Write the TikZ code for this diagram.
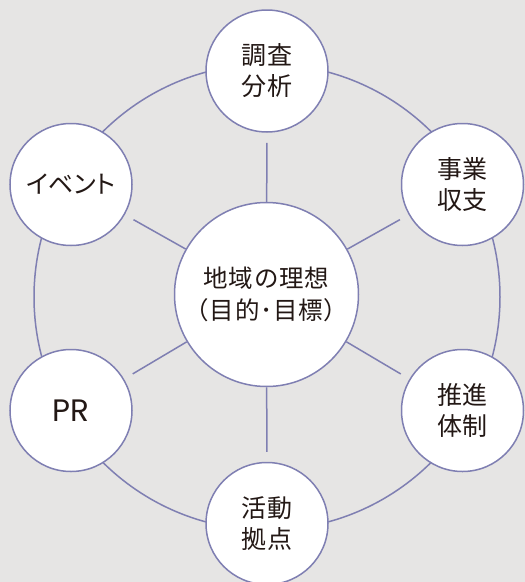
\documentclass[tikz,border=0pt]{standalone}
\usepackage{fontspec}
\newfontfamily\cjk[LetterSpace=3]{Noto Sans CJK JP}
\newfontfamily\cjkp[RawFeature=+palt]{Noto Sans CJK JP}
\newfontfamily\latinf[LetterSpace=2]{Poppins}
\usetikzlibrary{backgrounds}
\definecolor{bgc}{HTML}{E6E5E4}
\definecolor{linec}{HTML}{7F7FB2}
\definecolor{txtc}{HTML}{231815}
\tikzset{
  outer/.style={circle, draw=linec, line width=1.5pt, fill=white, minimum size=122pt, inner sep=0pt, align=center, text=txtc, font=\cjk\fontsize{25}{31}\selectfont},
  inner/.style={circle, draw=linec, line width=1.5pt, fill=white, minimum size=184pt, inner sep=0pt, align=center, text=txtc, font=\cjk\fontsize{24.5}{32}\selectfont},
  ring/.style={draw=linec, line width=1.5pt},
  spoke/.style={draw=linec, line width=1.5pt, shorten >=10pt}
}
\begin{document}
\begin{tikzpicture}[x=1pt,y=-1pt]
\useasboundingbox (0,0) rectangle (525,582);
\clip (0,0) rectangle (525,582);
\node[inner] (c) at (266.5,294.5) {地域の理想\\（目的･目標）};
\node[outer] (t) at (267,71) {調査\\分析};
\node[outer] (ur) at (462.5,184.5) {事業\\収支};
\node[outer] (lr) at (462.5,410.5) {推進\\体制};
\node[outer] (b) at (267,523.5) {活動\\拠点};
\node[outer] (ll) at (71,410.5) {\latinf\fontsize{31}{31}\selectfont PR};
\node[outer] (ul) at (71,184.5) {\cjkp\fontsize{25}{31}\selectfont イベント};
\begin{scope}[on background layer]
\fill[bgc] (0,0) rectangle (525,582);
\coordinate (o) at (267,297);
\draw[ring] (o) circle[radius=233];
\draw[spoke] (c) -- (t);
\draw[spoke] (c) -- (ur);
\draw[spoke] (c) -- (lr);
\draw[spoke] (c) -- (b);
\draw[spoke] (c) -- (ll);
\draw[spoke] (c) -- (ul);
\end{scope}
\end{tikzpicture}
\end{document}
